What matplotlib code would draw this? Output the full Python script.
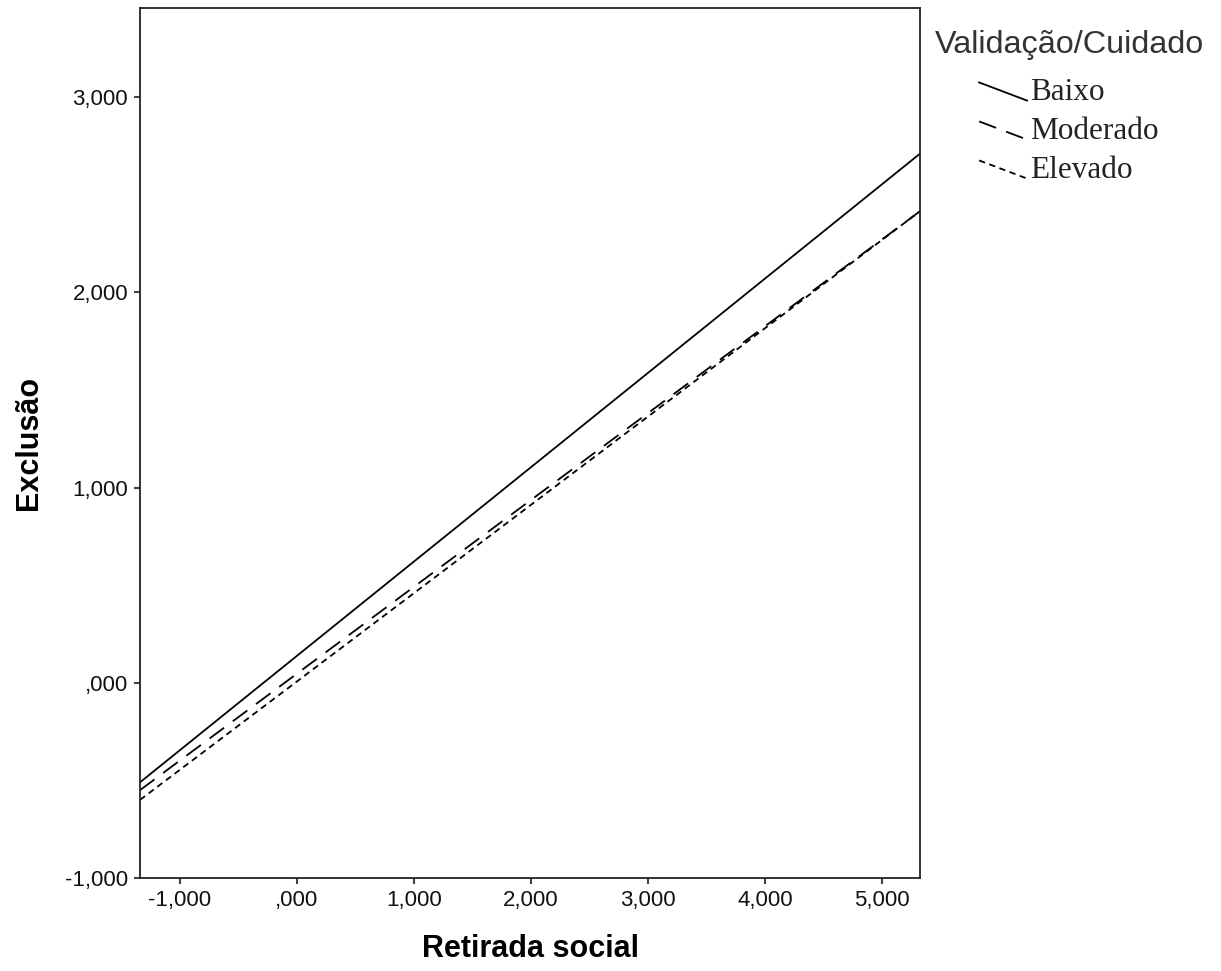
import matplotlib
matplotlib.use('Agg')
import matplotlib.pyplot as plt
from matplotlib.lines import Line2D
from matplotlib.legend_handler import HandlerBase
from matplotlib.ticker import FuncFormatter

retirada = [-1.342, 5.325]
baixo = [-0.51, 2.71]
moderado = [-0.55, 2.415]
elevado = [-0.60, 2.415]

series_nomes = ['Baixo', 'Moderado', 'Elevado']
x_ticks = [-1, 0, 1, 2, 3, 4, 5]
y_ticks = [-1, 0, 1, 2, 3]


def fmt(v, pos=None):
    s = '{:.3f}'.format(v).replace('.', ',')
    if s.startswith('0,'):
        s = s[1:]
    if s.startswith('-0,'):
        s = s[2:]
    return s


# Legenda com traço diagonal (estilo SPSS), recuada para a direita
class Diagonal(HandlerBase):
    def create_artists(self, legend, orig, xd, yd, w, h, fontsize, trans):
        ln = Line2D([-xd + w * 0.48, -xd + w], [-yd + h * 0.8, -yd - h * 0.03],
                    color=orig.get_color(), lw=orig.get_linewidth(),
                    linestyle=orig.get_linestyle())
        if orig._unscaled_dash_pattern[1]:
            ln.set_dashes(orig._unscaled_dash_pattern[1])
        ln.set_transform(trans)
        return [ln]


fig = plt.figure(figsize=(12.21, 9.71), dpi=100)
ax = fig.add_axes([140 / 1221, 93 / 971, 780 / 1221, 870 / 971])

l1, = ax.plot(retirada, baixo, color='black', lw=1.3, linestyle='-')
l2, = ax.plot(retirada, moderado, color='black', lw=1.3, linestyle=(0, (10, 6)))
l3, = ax.plot(retirada, elevado, color='black', lw=1.3, linestyle=(0, (3.5, 2.5)))

ax.set_xlim(retirada[0], retirada[1])
ax.set_ylim(-1, 3.456)
ax.set_xticks(x_ticks)
ax.set_yticks(y_ticks)
ax.xaxis.set_major_formatter(FuncFormatter(fmt))
ax.yaxis.set_major_formatter(FuncFormatter(fmt))

for sp in ax.spines.values():
    sp.set_color('#222222')
    sp.set_linewidth(1.3)
ax.tick_params(direction='out', length=4.5, width=1.5, color='#444444',
               labelsize=16, pad=4)
for lab in ax.get_xticklabels() + ax.get_yticklabels():
    lab.set_family('Liberation Sans')
    lab.set_color('#111111')

ax.set_xlabel('Retirada social', fontsize=22, fontweight='bold',
              family='Liberation Sans', labelpad=17)
ax.set_ylabel('Exclusão', fontsize=22, fontweight='bold',
              family='Liberation Sans', labelpad=15)

leg = fig.legend([l1, l2, l3], series_nomes, loc='upper left',
                 bbox_to_anchor=(913 / 1221, 1 - 8 / 971), frameon=False,
                 title='Validação/Cuidado', alignment='left',
                 handler_map={Line2D: Diagonal()},
                 prop={'family': 'Liberation Serif', 'size': 22.5},
                 handlelength=2.95, handletextpad=0.1, labelspacing=0.32,
                 borderpad=0.2)
leg.get_title().set_fontsize(23.3)
leg.get_title().set_family('Liberation Sans')
leg.get_title().set_color('#333333')
leg._legend_box.sep = 13
for t in leg.get_texts():
    t.set_color('#222222')

fig.savefig('out.png', dpi=100, facecolor='white')
